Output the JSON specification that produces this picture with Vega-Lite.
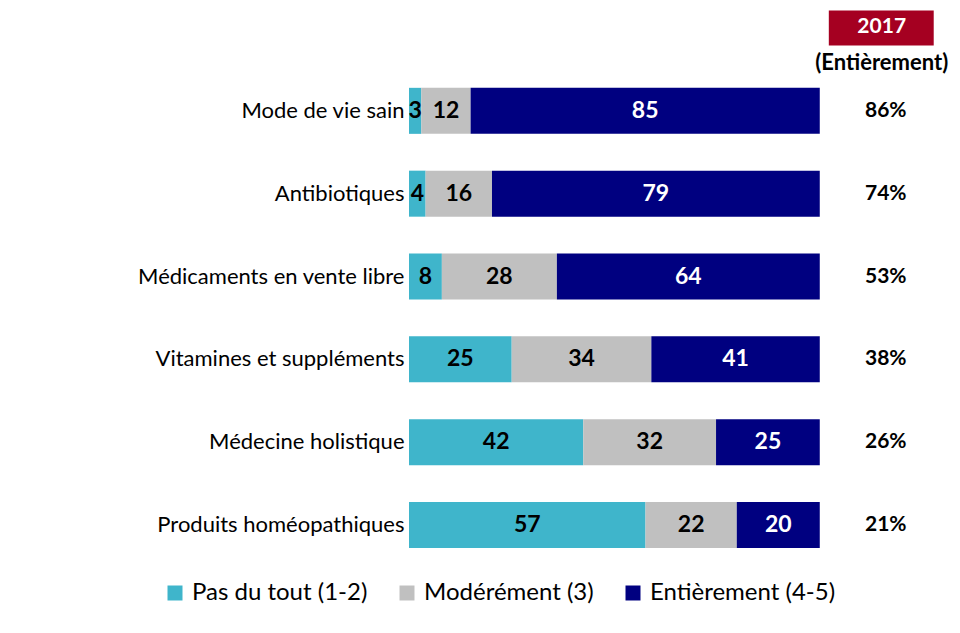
{
  "$schema": "https://vega.github.io/schema/vega-lite/v6.json",
  "width": 534,
  "height": 543,
  "autosize": "none",
  "padding": {"left": 409, "top": 5, "right": 17, "bottom": 85},
  "background": "white",
  "config": {"view": {"stroke": null}, "font": "Lato"},
  "datasets": {
    "bars": [
      {"cat": "Mode de vie sain", "resp": "Pas du tout (1-2)", "ord": 1, "val": 3},
      {"cat": "Mode de vie sain", "resp": "Modérément (3)", "ord": 2, "val": 12},
      {"cat": "Mode de vie sain", "resp": "Entièrement (4-5)", "ord": 3, "val": 85},
      {"cat": "Antibiotiques", "resp": "Pas du tout (1-2)", "ord": 1, "val": 4},
      {"cat": "Antibiotiques", "resp": "Modérément (3)", "ord": 2, "val": 16},
      {"cat": "Antibiotiques", "resp": "Entièrement (4-5)", "ord": 3, "val": 79},
      {"cat": "Médicaments en vente libre", "resp": "Pas du tout (1-2)", "ord": 1, "val": 8},
      {"cat": "Médicaments en vente libre", "resp": "Modérément (3)", "ord": 2, "val": 28},
      {"cat": "Médicaments en vente libre", "resp": "Entièrement (4-5)", "ord": 3, "val": 64},
      {"cat": "Vitamines et suppléments", "resp": "Pas du tout (1-2)", "ord": 1, "val": 25},
      {"cat": "Vitamines et suppléments", "resp": "Modérément (3)", "ord": 2, "val": 34},
      {"cat": "Vitamines et suppléments", "resp": "Entièrement (4-5)", "ord": 3, "val": 41},
      {"cat": "Médecine holistique", "resp": "Pas du tout (1-2)", "ord": 1, "val": 42},
      {"cat": "Médecine holistique", "resp": "Modérément (3)", "ord": 2, "val": 32},
      {"cat": "Médecine holistique", "resp": "Entièrement (4-5)", "ord": 3, "val": 25},
      {"cat": "Produits homéopathiques", "resp": "Pas du tout (1-2)", "ord": 1, "val": 57},
      {"cat": "Produits homéopathiques", "resp": "Modérément (3)", "ord": 2, "val": 22},
      {"cat": "Produits homéopathiques", "resp": "Entièrement (4-5)", "ord": 3, "val": 20}
    ],
    "pct": [
      {"cat": "Mode de vie sain", "pct": "86%"},
      {"cat": "Antibiotiques", "pct": "74%"},
      {"cat": "Médicaments en vente libre", "pct": "53%"},
      {"cat": "Vitamines et suppléments", "pct": "38%"},
      {"cat": "Médecine holistique", "pct": "26%"},
      {"cat": "Produits homéopathiques", "pct": "21%"}
    ],
    "hdr": [
      {"cat": "hdr", "year": "2017", "sub": "(Entièrement)"}
    ]
  },
  "encoding": {
    "y": {
      "field": "cat",
      "type": "nominal",
      "sort": ["hdr", "Mode de vie sain", "Antibiotiques", "Médicaments en vente libre", "Vitamines et suppléments", "Médecine holistique", "Produits homéopathiques"],
      "scale": {
        "domain": ["hdr", "Mode de vie sain", "Antibiotiques", "Médicaments en vente libre", "Vitamines et suppléments", "Médecine holistique", "Produits homéopathiques"],
        "paddingInner": 0.4444,
        "paddingOuter": 0
      },
      "axis": {
        "title": null,
        "domain": false,
        "ticks": false,
        "labelPadding": 5,
        "labelFontSize": 22,
        "labelColor": "black",
        "labelFont": "Lato",
        "labelLimit": 400,
        "labelExpr": "datum.value === 'hdr' ? '' : datum.value"
      }
    }
  },
  "layer": [
    {
      "data": {"name": "bars"},
      "transform": [
        {"stack": "val", "groupby": ["cat"], "sort": [{"field": "ord"}], "offset": "normalize", "as": ["x0", "x1"]}
      ],
      "mark": {"type": "bar"},
      "encoding": {
        "x": {"field": "x0", "type": "quantitative", "scale": {"domain": [0, 1.3], "nice": false, "zero": true}, "axis": null},
        "x2": {"field": "x1"},
        "color": {
          "field": "resp",
          "type": "nominal",
          "sort": ["Pas du tout (1-2)", "Modérément (3)", "Entièrement (4-5)"],
          "scale": {"domain": ["Pas du tout (1-2)", "Modérément (3)", "Entièrement (4-5)"], "range": ["#3FB5CB", "#C0C0C0", "#000080"]},
          "legend": {
            "title": null,
            "orient": "none",
            "direction": "horizontal",
            "legendX": -246,
            "legendY": 576,
            "symbolType": "square",
            "symbolSize": 225,
            "symbolStrokeWidth": 0,
            "labelFontSize": 24,
            "labelFont": "Lato",
            "labelColor": "black",
            "labelLimit": 300,
            "columnPadding": 27,
            "labelOffset": 5
          }
        }
      }
    },
    {
      "data": {"name": "bars"},
      "transform": [
        {"stack": "val", "groupby": ["cat"], "sort": [{"field": "ord"}], "offset": "normalize", "as": ["x0", "x1"]},
        {"calculate": "(datum.x0 + datum.x1) / 2", "as": "mid"}
      ],
      "mark": {"type": "text", "fontSize": 23, "fontWeight": "bold", "font": "Lato"},
      "encoding": {
        "x": {"field": "mid", "type": "quantitative"},
        "text": {"field": "val", "type": "quantitative"},
        "color": {"condition": {"test": "datum.resp === 'Entièrement (4-5)'", "value": "white"}, "value": "black"}
      }
    },
    {
      "data": {"name": "pct"},
      "mark": {"type": "text", "fontSize": 21, "fontWeight": "bold", "font": "Lato", "color": "black"},
      "encoding": {
        "x": {"datum": 1.1606, "type": "quantitative"},
        "text": {"field": "pct"}
      }
    },
    {
      "data": {"name": "hdr"},
      "mark": {"type": "bar", "color": "#A50021", "height": {"band": 0.76}},
      "encoding": {
        "x": {"datum": 1.022, "type": "quantitative"},
        "x2": {"datum": 1.2774}
      }
    },
    {
      "data": {"name": "hdr"},
      "mark": {"type": "text", "fontSize": 21, "fontWeight": "bold", "font": "Lato", "color": "white", "dy": -1},
      "encoding": {
        "x": {"datum": 1.1508, "type": "quantitative"},
        "text": {"field": "year"}
      }
    },
    {
      "data": {"name": "hdr"},
      "mark": {"type": "text", "fontSize": 22, "fontWeight": "bold", "font": "Lato", "color": "black", "dy": 35},
      "encoding": {
        "x": {"datum": 1.1508, "type": "quantitative"},
        "text": {"field": "sub"}
      }
    }
  ]
}
